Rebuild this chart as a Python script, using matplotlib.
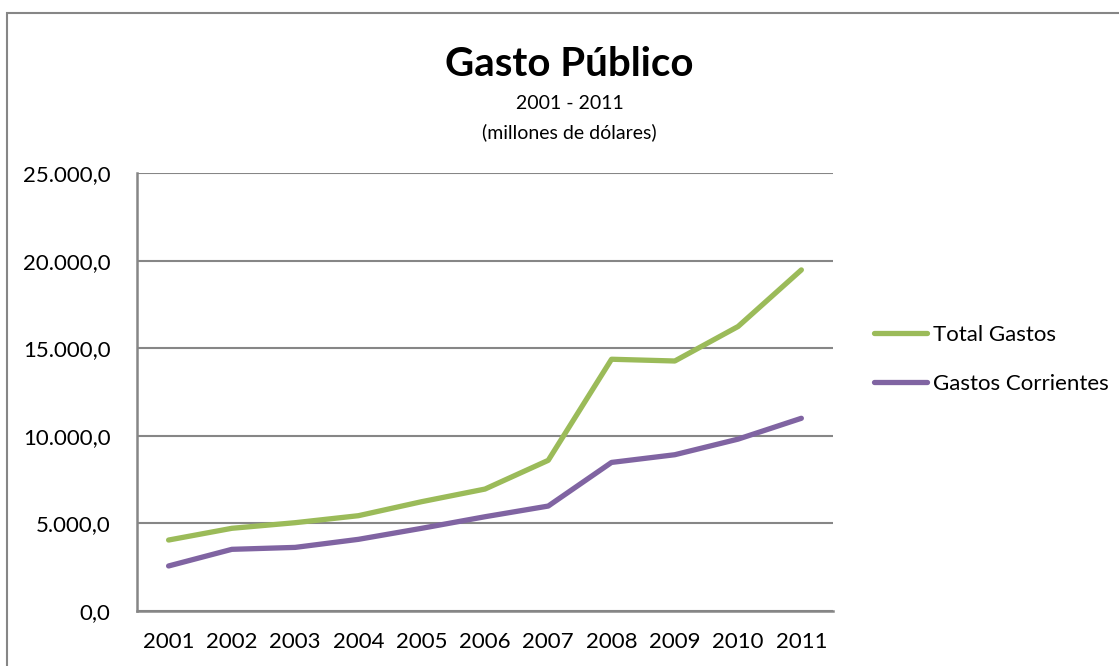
import matplotlib
matplotlib.use("Agg")
import matplotlib.pyplot as plt
from matplotlib.patches import Rectangle
from matplotlib.ticker import FuncFormatter

plt.rcParams["font.family"] = ["Lato", "DejaVu Sans"]

# datos (millones de dolares)
years = [2001, 2002, 2003, 2004, 2005, 2006, 2007, 2008, 2009, 2010, 2011]
total_gastos = [4050, 4720, 5040, 5440, 6240, 6960, 8600, 14370, 14270, 16240, 19470]
gastos_corrientes = [2570, 3520, 3630, 4090, 4720, 5380, 5990, 8480, 8920, 9810, 11000]
y_ticks = [0, 5000, 10000, 15000, 20000, 25000]

grey = "#868686"

fig = plt.figure(figsize=(11.19, 6.66), dpi=100, facecolor="white")
fig.patches.append(Rectangle((0.0063, -0.05), 1.2, 0.9805 + 0.05, transform=fig.transFigure,
                             fill=False, edgecolor=grey, lw=1.5))

ax = fig.add_axes([0.1224, 0.0826, 0.622, 0.6576])
ax.plot(years, total_gastos, color="#9BBB59", lw=3.8, label="Total Gastos", solid_capstyle="round")
ax.plot(years, gastos_corrientes, color="#8064A2", lw=3.8, label="Gastos Corrientes", solid_capstyle="round")

ax.set_xlim(2000.5, 2011.5)
ax.set_ylim(0, 25000)
ax.set_xticks(years)
ax.set_yticks(y_ticks)
ax.yaxis.set_major_formatter(FuncFormatter(lambda v, p: f"{v:,.1f}".replace(",", "X").replace(".", ",").replace("X", ".")))
ax.tick_params(axis="both", length=0, labelsize=16, colors="black")
ax.tick_params(axis="y", pad=19)
ax.tick_params(axis="x", pad=15)
ax.grid(axis="y", color=grey, lw=1.5)
ax.set_axisbelow(True)
for s in ("top", "right"):
    ax.spines[s].set_visible(False)
for s in ("left", "bottom"):
    ax.spines[s].set_color(grey)
    ax.spines[s].set_linewidth(1.8)

fig.text(0.509, 0.903, "Gasto Público", ha="center", va="center", fontsize=29, fontweight="bold")
fig.text(0.509, 0.845, "2001 - 2011", ha="center", va="center", fontsize=14)
fig.text(0.509, 0.801, "(millones de dólares)", ha="center", va="center", fontsize=14)

leg = ax.legend(loc="center left", bbox_to_anchor=(1.03, 0.575), frameon=False, fontsize=16,
                handlelength=2.4, handletextpad=0.25, labelspacing=1.3)

fig.savefig("out.png", dpi=100, facecolor="white")
